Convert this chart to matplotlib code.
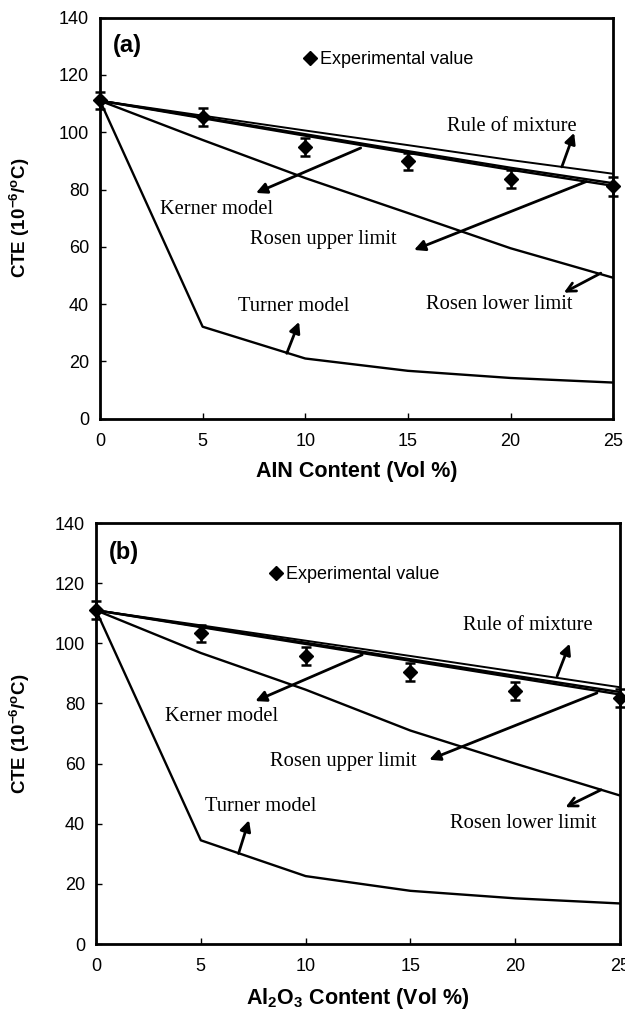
import matplotlib
matplotlib.use("Agg")
import matplotlib.pyplot as plt
from matplotlib.lines import Line2D

plt.rcParams["font.family"] = ["Liberation Sans", "DejaVu Sans"]
plt.rcParams["mathtext.fontset"] = "custom"
plt.rcParams["mathtext.rm"] = "Liberation Sans"
plt.rcParams["mathtext.bf"] = "Liberation Sans:bold"

# volume content (%)
content = [0, 5, 10, 15, 20, 25]

# panel (a): AlN
exp_a = [111.1, 105.3, 94.8, 89.8, 83.7, 81.1]
err_a = [3.0, 3.0, 3.2, 3.0, 3.2, 3.2]
rule_a = [111, 105.8, 100.6, 95.5, 90.3, 85.5]
kerner_a = [111, 104.9, 98.8, 92.8, 86.9, 81.3]
rosen_up_a = [111, 105.2, 99.3, 93.4, 87.6, 82.2]
rosen_low_a = [111, 97.3, 84.0, 71.8, 59.5, 49.2]
turner_a = [111, 32.1, 21.0, 16.7, 14.2, 12.6]

# panel (b): Al2O3
exp_b = [111.2, 103.4, 95.7, 90.4, 84.3, 81.9]
err_b = [3.0, 2.8, 3.0, 3.0, 3.0, 3.0]
rule_b = [111, 106.0, 100.9, 95.8, 90.6, 85.4]
kerner_b = [111, 105.4, 99.8, 94.2, 88.6, 83.0]
rosen_up_b = [111, 105.6, 100.2, 94.7, 89.2, 83.8]
rosen_low_b = [111, 96.8, 84.6, 71.0, 60.0, 49.4]
turner_b = [111, 34.5, 22.6, 17.7, 15.2, 13.5]

x_ticks = [0, 5, 10, 15, 20, 25]
y_ticks = [0, 20, 40, 60, 80, 100, 120, 140]

# label text, text position, arrow tail, arrow head, head style
notes_a = [
    ("Rule of mixture", (16.9, 102.0), (22.5, 87.9), (23.1, 99.8), "-|>"),
    ("Kerner model", (2.9, 72.9), (12.7, 94.5), (7.6, 78.8), "-|>"),
    ("Rosen upper limit", (7.3, 62.4), (23.7, 82.8), (15.3, 58.9), "-|>"),
    ("Rosen lower limit", (15.9, 39.7), (24.4, 50.8), (22.6, 44.0), "->"),
    ("Turner model", (6.7, 39.1), (9.1, 22.8), (9.7, 33.8), "-|>"),
]
notes_b = [
    ("Rule of mixture", (17.5, 105.9), (22.0, 89.1), (22.6, 99.9), "-|>"),
    ("Kerner model", (3.3, 75.8), (12.7, 96.2), (7.6, 80.8), "-|>"),
    ("Rosen upper limit", (8.3, 60.7), (23.9, 83.5), (15.9, 61.3), "-|>"),
    ("Rosen lower limit", (16.9, 40.1), (24.1, 51.3), (22.4, 45.5), "->"),
    ("Turner model", (5.2, 45.8), (6.8, 30.1), (7.3, 41.2), "-|>"),
]


def draw_panel(ax, tag, xlabel, exp, err, rule, kerner, rosen_up, rosen_low,
               turner, notes, legend_anchor, ylabel_x):
    ax.plot(content, rule, color="black", lw=1.4)
    ax.plot(content, kerner, color="black", lw=1.7)
    ax.plot(content, rosen_up, color="black", lw=1.7)
    ax.plot(content, rosen_low, color="black", lw=1.7)
    ax.plot(content, turner, color="black", lw=1.7)
    ax.errorbar(content, exp, yerr=err, fmt="D", color="black", ms=7,
                elinewidth=1.8, capsize=3.5, capthick=1.8, clip_on=False,
                zorder=5)

    for label, txt, tail, head, style in notes:
        ax.text(txt[0], txt[1], label, family="Liberation Serif",
                fontsize=14.8, va="center", ha="left")
        ax.annotate("", xy=head, xytext=tail,
                    arrowprops=dict(arrowstyle=style, color="black", lw=2,
                                    mutation_scale=16, shrinkA=0, shrinkB=0))

    ax.text(0.025, 0.93, tag, transform=ax.transAxes, fontsize=17,
            fontweight="bold", va="center", ha="left")

    handle = Line2D([], [], ls="none", marker="D", color="black", ms=7)
    ax.legend([handle], ["Experimental value"], loc="center left",
              bbox_to_anchor=legend_anchor, frameon=False, fontsize=13,
              handlelength=0.8, handletextpad=0.15, borderpad=0,
              borderaxespad=0)

    ax.set_xlim(0, 25)
    ax.set_ylim(0, 140)
    ax.set_xticks(x_ticks)
    ax.set_yticks(y_ticks)
    ax.tick_params(direction="in", length=4, width=1, labelsize=13)
    ax.tick_params(axis="x", pad=10)
    ax.tick_params(axis="y", pad=8)
    for sp in ax.spines.values():
        sp.set_linewidth(2)
    ax.set_xlabel(xlabel, fontsize=15.5, fontweight="bold", labelpad=8)
    ax.set_ylabel(r"CTE (10$^{\mathbf{-6}}$/$^{\mathbf{o}}$C)", fontsize=13.5,
                  fontweight="bold")
    ax.yaxis.set_label_coords(ylabel_x, 0.5)


fig = plt.figure(figsize=(6.25, 10.1), dpi=100)
ax_a = fig.add_axes([0.160, 0.5855, 0.821, 0.397])
ax_b = fig.add_axes([0.1536, 0.0653, 0.8384, 0.4168])

draw_panel(ax_a, "(a)", "AIN Content (Vol %)", exp_a, err_a, rule_a,
           kerner_a, rosen_up_a, rosen_low_a, turner_a, notes_a,
           (0.395, 0.895), -0.132)
draw_panel(ax_b, "(b)", r"Al$_{\mathbf{2}}$O$_{\mathbf{3}}$ Content (Vol %)",
           exp_b, err_b, rule_b, kerner_b, rosen_up_b, rosen_low_b, turner_b,
           notes_b, (0.33, 0.877), -0.122)

fig.savefig("out.png", dpi=100)
